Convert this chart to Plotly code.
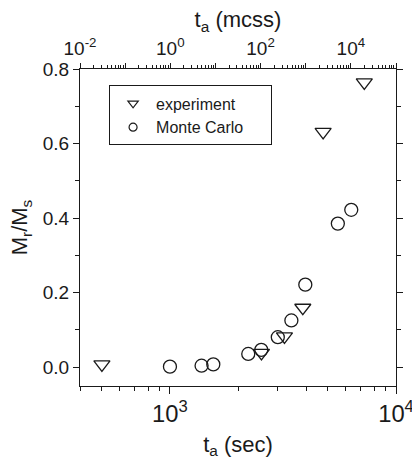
import plotly.graph_objects as go

# Experiment (triangles)
exp_t = [500, 2540, 3210, 3870, 4760, 7240]
exp_m = [0.007, 0.038, 0.082, 0.159, 0.631, 0.764]

# Monte Carlo (circles)
mc_t = [1000, 1380, 1555, 2220, 2535, 3000, 3445, 3970, 5530, 6340]
mc_m = [0.001, 0.0035, 0.007, 0.035, 0.046, 0.080, 0.125, 0.221, 0.385, 0.422]

top_tickvals = [1e-2, 1e-1, 1e0, 1e1, 1e2, 1e3, 1e4, 1e5]
top_ticktext = ["10<sup>-2</sup>", "", "10<sup>0</sup>", "", "10<sup>2</sup>", "", "10<sup>4</sup>", ""]

FONT = "Liberation Sans, Arial, sans-serif"
INK = "#1a1a1a"
PAD = "\u00a0" * 5

fig = go.Figure()
fig.add_trace(go.Scatter(x=exp_t, y=exp_m, mode="markers", showlegend=False,
                         marker=dict(symbol="triangle-down-open", size=14,
                                     color=INK, line=dict(width=1.3, color=INK))))
fig.add_trace(go.Scatter(x=mc_t, y=mc_m, mode="markers", showlegend=False,
                         marker=dict(symbol="circle-open", size=13,
                                     color=INK, line=dict(width=1.3, color=INK))))
# legend entries
fig.add_trace(go.Scatter(x=[None], y=[None], mode="markers", name="experiment",
                         marker=dict(symbol="triangle-down-open", size=9,
                                     color=INK, line=dict(width=1.2, color=INK))))
fig.add_trace(go.Scatter(x=[None], y=[None], mode="markers", name="Monte Carlo" + PAD,
                         marker=dict(symbol="circle-open", size=8,
                                     color=INK, line=dict(width=1.2, color=INK))))
# invisible trace to carry the top axis
fig.add_trace(go.Scatter(x=[1], y=[-1], xaxis="x2", mode="markers", showlegend=False,
                         hoverinfo="skip", marker=dict(opacity=0)))

fig.update_layout(
    width=412, height=467,
    margin=dict(l=80, r=16, t=69, b=81),
    paper_bgcolor="white", plot_bgcolor="white",
    font=dict(family=FONT, color=INK, size=19),
    xaxis=dict(type="log", range=[2.60206, 4], dtick=1, exponentformat="power",
               automargin=False, ticklabeloverflow="allow",
               showline=True, linecolor=INK, linewidth=1.2, mirror=False,
               ticks="outside", ticklen=7, tickwidth=1.2, tickcolor=INK,
               showgrid=False, zeroline=False,
               minor=dict(ticks="outside", ticklen=4, tickwidth=1, tickcolor=INK,
                          dtick="D1", showgrid=False),
               tickfont=dict(size=19),
               title=dict(text="t<sub>a</sub> (sec)", font=dict(size=22), standoff=10)),
    xaxis2=dict(type="log", range=[-2, 5], overlaying="x", side="top",
                automargin=False, ticklabeloverflow="allow",
                tickmode="array", tickvals=top_tickvals, ticktext=top_ticktext,
                showline=True, linecolor=INK, linewidth=1.2,
                ticks="outside", ticklen=5, tickwidth=1.2, tickcolor=INK,
                showgrid=False, zeroline=False,
                minor=dict(ticks="outside", ticklen=3, tickwidth=1, tickcolor=INK,
                           dtick="D1", showgrid=False),
                tickfont=dict(size=19),
                title=dict(text="t<sub>a</sub> (mcss)", font=dict(size=22), standoff=1)),
    yaxis=dict(range=[-0.051, 0.8], dtick=0.2, tickformat=".1f",
               automargin=False, ticklabeloverflow="allow",
               showline=True, linecolor=INK, linewidth=1.2, mirror="ticks",
               ticks="outside", ticklen=6, tickwidth=1.2, tickcolor=INK,
               showgrid=False, zeroline=False,
               minor=dict(ticks="outside", ticklen=4, tickwidth=1, tickcolor=INK,
                          dtick=0.1, showgrid=False),
               tickfont=dict(size=19),
               title=dict(text="M<sub>r</sub>/M<sub>s</sub>", font=dict(size=22), standoff=8)),
    legend=dict(x=0.092, y=0.948, xanchor="left", yanchor="top",
                bordercolor=INK, borderwidth=1, bgcolor="white",
                font=dict(size=16, family=FONT, color=INK),
                tracegroupgap=0, itemwidth=36),
    showlegend=True,
)

fig.write_html("out.html", config={"displayModeBar": False},
               post_script="document.body.style.margin='0';document.body.style.padding='0';")
